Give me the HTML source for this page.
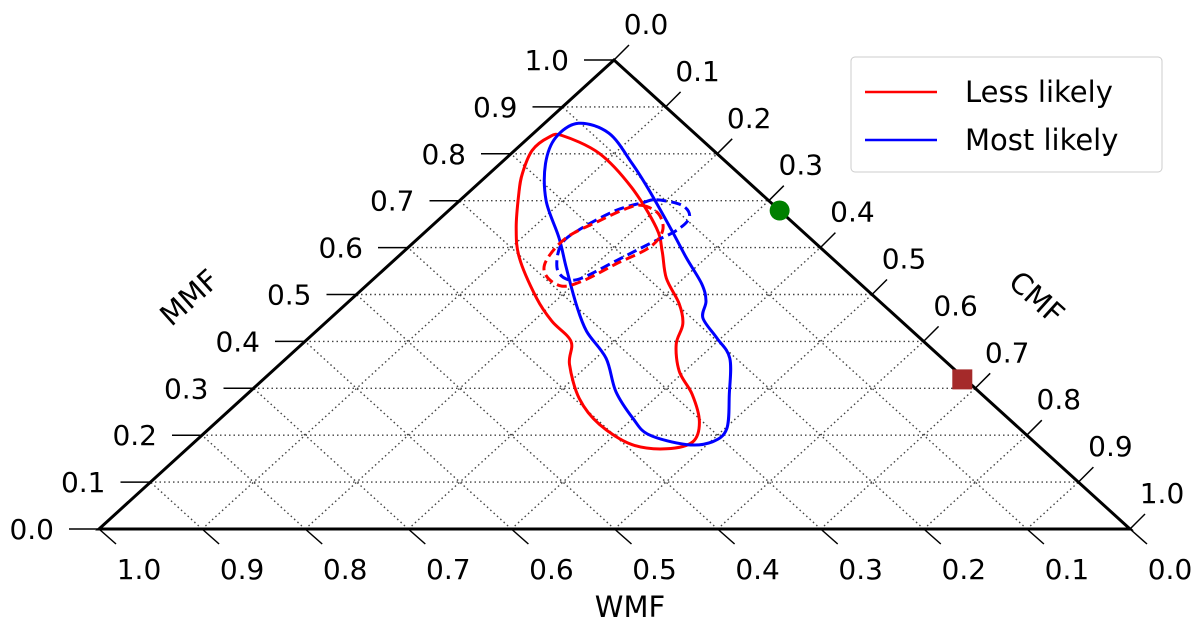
<!DOCTYPE html>
<html><head><meta charset="utf-8"><style>
html,body{margin:0;padding:0;background:#fff;}
svg text{font-family:"DejaVu Sans","Liberation Sans",sans-serif;fill:#000;}
</style></head><body>
<svg id="chart" width="1200" height="633" viewBox="0 0 1200 633" xmlns="http://www.w3.org/2000/svg">
<g id="grid"></g>
<g id="axes"></g>
<g id="series"></g>
<text x="0" y="0" font-size="29" text-anchor="middle" transform="translate(196,305) rotate(-42)">MMF</text>
<text x="0" y="0" font-size="29" text-anchor="middle" transform="translate(1030,305) rotate(42)">CMF</text>
<text x="630" y="617" font-size="29" text-anchor="middle">WMF</text>
<g>
<rect x="851" y="57" width="311" height="115" rx="4" fill="#fff" stroke="#ccc" stroke-width="1"/>
<line x1="865" y1="92" x2="937" y2="92" stroke="#f00" stroke-width="2.5"/>
<text x="965" y="102" font-size="29">Less likely</text>
<line x1="865" y1="140" x2="937" y2="140" stroke="#00f" stroke-width="2.5"/>
<text x="965" y="150" font-size="29">Most likely</text>
</g>
</svg>
<script>
// ternary data: each point [MMF, CMF]; WMF = 1 - MMF - CMF
const ticks = [0,0.1,0.2,0.3,0.4,0.5,0.6,0.7,0.8,0.9,1.0];
const tickLabels = ["0.0","0.1","0.2","0.3","0.4","0.5","0.6","0.7","0.8","0.9","1.0"];
const redSolid = [[0.839,0.030],[0.801,0.085],[0.728,0.153],[0.642,0.220],[0.593,0.250],[0.535,0.283],[0.480,0.323],[0.437,0.348],[0.394,0.363],[0.336,0.395],[0.287,0.432],[0.229,0.468],[0.186,0.483],[0.171,0.465],[0.180,0.427],[0.223,0.374],[0.278,0.327],[0.351,0.281],[0.400,0.258],[0.443,0.218],[0.493,0.178],[0.578,0.119],[0.642,0.084],[0.715,0.050],[0.758,0.032],[0.807,0.017],[0.835,0.019]];
const blueSolid = [[0.865,0.033],[0.844,0.073],[0.779,0.128],[0.722,0.173],[0.636,0.238],[0.578,0.281],[0.522,0.324],[0.486,0.346],[0.450,0.361],[0.407,0.396],[0.364,0.430],[0.287,0.468],[0.214,0.502],[0.186,0.502],[0.180,0.480],[0.201,0.433],[0.236,0.400],[0.293,0.355],[0.364,0.310],[0.422,0.262],[0.480,0.223],[0.557,0.175],[0.621,0.136],[0.700,0.084],[0.779,0.044],[0.835,0.026]];
const redDashed = [[0.690,0.182],[0.672,0.207],[0.636,0.229],[0.600,0.234],[0.565,0.219],[0.529,0.205],[0.518,0.190],[0.540,0.164],[0.572,0.148],[0.621,0.143],[0.657,0.157],[0.683,0.170]];
const blueDashed = [[0.702,0.190],[0.690,0.221],[0.664,0.241],[0.636,0.242],[0.608,0.230],[0.572,0.216],[0.535,0.201],[0.533,0.187],[0.557,0.166],[0.608,0.145],[0.642,0.148],[0.679,0.162],[0.696,0.180]];
const greenPoint = [0.679,0.321];
const squarePoint = [0.319,0.678];

const NS="http://www.w3.org/2000/svg";
const TOP=[614,60], BL=[99,529], BR=[1130,529];
function P(m,c){const w=1-m-c;return [w*BL[0]+m*TOP[0]+c*BR[0], w*BL[1]+m*TOP[1]+c*BR[1]];}
function mk(tag,attrs,parent){const e=document.createElementNS(NS,tag);for(const k in attrs)e.setAttribute(k,attrs[k]);parent.appendChild(e);return e;}
const grid=document.getElementById('grid'), axes=document.getElementById('axes'), series=document.getElementById('series');
const gs={stroke:'#444','stroke-width':1.4,'stroke-dasharray':'1.5,3'};
ticks.forEach((t,i)=>{
  if(t>0&&t<1){
    let a=P(t,0),b=P(t,1-t);
    let l=mk('line',Object.assign({x1:a[0],y1:a[1],x2:b[0],y2:b[1]},gs),grid);
    
    
    a=P(0,t);b=P(1-t,t);
    l=mk('line',Object.assign({x1:a[0],y1:a[1],x2:b[0],y2:b[1]},gs),grid);
    
    
    a=P(0,1-t);b=P(1-t,0);
    l=mk('line',Object.assign({x1:a[0],y1:a[1],x2:b[0],y2:b[1]},gs),grid);
    
    
  }
  let p=P(t,0);
  let l=mk('line',{x1:p[0]-30,y1:p[1],x2:p[0],y2:p[1],stroke:'#000','stroke-width':1.5},axes);
  
  
  let tx=mk('text',{x:p[0]-45,y:p[1]+10,'font-size':28,'text-anchor':'end'},axes);
  tx.textContent=tickLabels[i];
  
  
  p=P(0,1-t);
  l=mk('line',{x1:p[0],y1:p[1],x2:p[0]+17,y2:p[1]+15,stroke:'#000','stroke-width':1.5},axes);
  
  
  tx=mk('text',{x:p[0]+40,y:p[1]+50,'font-size':28,'text-anchor':'middle'},axes);
  tx.textContent=tickLabels[i];
  
  
  p=P(1-t,t);
  l=mk('line',{x1:p[0],y1:p[1],x2:p[0]+15,y2:p[1]-15,stroke:'#000','stroke-width':1.5},axes);
  
  
  tx=mk('text',{x:p[0]+32,y:p[1]-26,'font-size':28,'text-anchor':'middle'},axes);
  tx.textContent=tickLabels[i];
  
  
});
const tri=mk('polygon',{points:[TOP,BL,BR].map(q=>q.join(',')).join(' '),fill:'none',stroke:'#000','stroke-width':3,'stroke-linejoin':'miter'},axes);



function smoothPath(pts){
  const q=pts.map(p=>P(p[0],p[1])),n=q.length;let d='M'+q[0][0].toFixed(1)+','+q[0][1].toFixed(1);
  for(let i=0;i<n;i++){const p0=q[(i-1+n)%n],p1=q[i],p2=q[(i+1)%n],p3=q[(i+2)%n];
    const c1=[p1[0]+(p2[0]-p0[0])/6,p1[1]+(p2[1]-p0[1])/6],c2=[p2[0]-(p3[0]-p1[0])/6,p2[1]-(p3[1]-p1[1])/6];
    d+=' C'+c1.map(v=>v.toFixed(1)).join(',')+' '+c2.map(v=>v.toFixed(1)).join(',')+' '+p2.map(v=>v.toFixed(1)).join(',');}
  return d+'Z';
}
let s=mk('path',{d:smoothPath(redSolid),fill:'none',stroke:'#f00','stroke-width':3},series);


s=mk('path',{d:smoothPath(blueSolid),fill:'none',stroke:'#00f','stroke-width':3},series);


s=mk('path',{d:smoothPath(blueDashed),fill:'none',stroke:'#00f','stroke-width':3,'stroke-dasharray':'10,5'},series);


s=mk('path',{d:smoothPath(redDashed),fill:'none',stroke:'#f00','stroke-width':3,'stroke-dasharray':'10,5'},series);


let g=P(greenPoint[0],greenPoint[1]);
s=mk('circle',{cx:g[0],cy:g[1],r:10,fill:'#008000'},series);


g=P(squarePoint[0],squarePoint[1]);
s=mk('rect',{x:g[0]-10,y:g[1]-10,width:20,height:20,fill:'#a52a2a'},series);


</script>
</body></html>
